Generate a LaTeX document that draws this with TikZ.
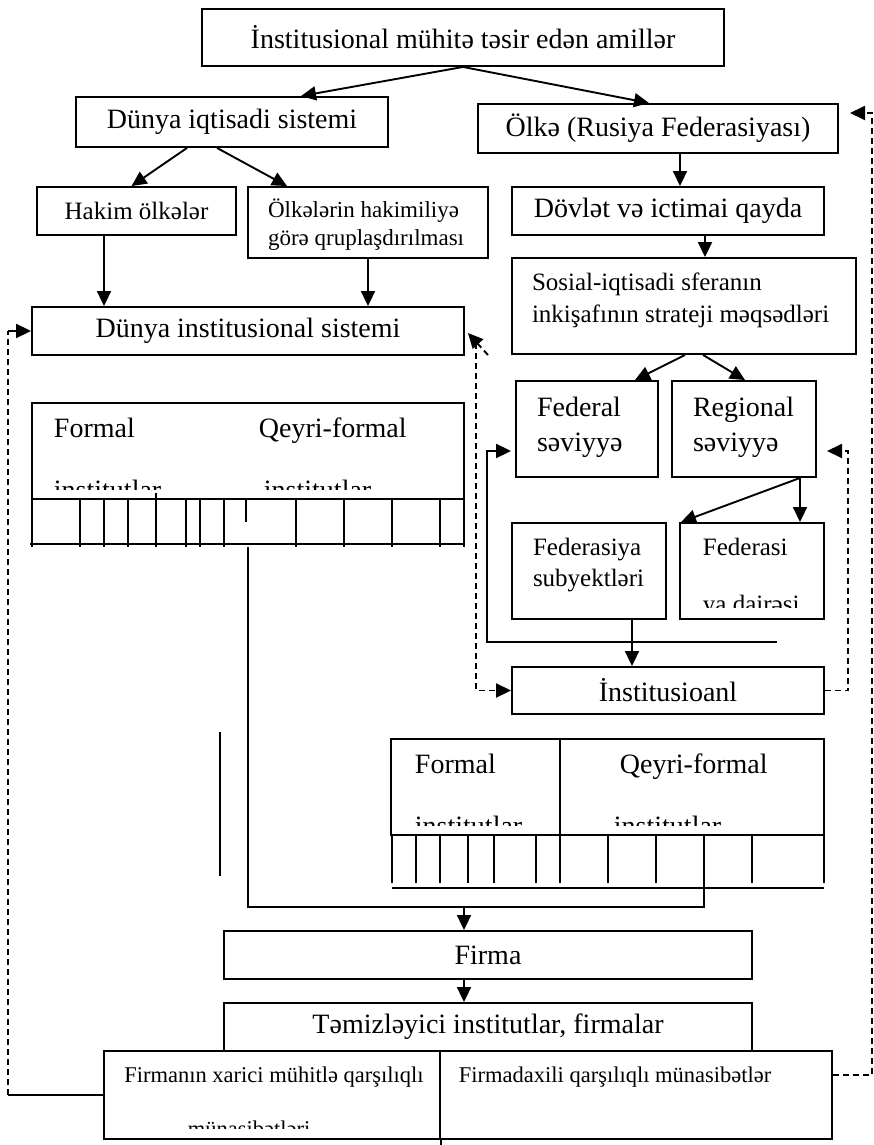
\documentclass[tikz,border=0pt]{standalone}
\usepackage{fontspec}
\setmainfont{Liberation Serif}
\usetikzlibrary{arrows.meta}
\usetikzlibrary{positioning}
\tikzset{->/.style = {-{Triangle[length=15pt,width=14pt]}}}
\tikzset{fb/.style = {dash pattern=on 6pt off 4pt}}
\tikzset{box/.style = {draw, inner sep = 0, font=\fontsize{28}{34}\selectfont}}
\tikzset{ltxt/.style = {inner sep = 0, anchor=west, align=left, font=\fontsize{25}{33}\selectfont}}
\tikzset{btxt/.style = {inner sep = 0, anchor=base west, font=\fontsize{28}{34}\selectfont}}
\begin{document}
\begin{tikzpicture}[x=1pt, y=-1pt, line width=1.9pt]
      \useasboundingbox (0,0) rectangle (874,1145);
      \node [box, minimum width=522, minimum height=57] (amil) at (463,37.5) {İnstitusional mühitə təsir edən amillər};
      \node [box, minimum width=312, minimum height=50] (diqt) at (232,122) {Dünya iqtisadi sistemi};
      \node [box, minimum width=360, minimum height=49] (olke) at (658,128.5) {Ölkə (Rusiya Federasiyası)};
      \node [box, minimum width=199, minimum height=48, font=\fontsize{25}{30}\selectfont] (hakim) at (136.5,211) {Hakim ölkələr};
      \node [box, minimum width=240, minimum height=71] (qrup) at (368,222.5) {};
      \node [ltxt, font=\fontsize{23}{28}\selectfont] (qrupt) at ([xshift=20pt, yshift=-2pt]qrup.west) {Ölkələrin hakimiliyə\\görə qruplaşdırılması};
      \node [box, minimum width=312, minimum height=48] (dovlet) at (668,211) {Dövlət və ictimai qayda};
      \node [box, minimum width=344, minimum height=96] (sosial) at (684,306) {};
      \node [ltxt, font=\fontsize{25}{32}\selectfont] (sosialt) at ([xshift=20pt, yshift=6pt]sosial.west) {Sosial-iqtisadi sferanın\\inkişafının strateji məqsədləri};
      \node [box, minimum width=432, minimum height=48] (dis) at (248,331) {Dünya institusional sistemi};
      \node [box, minimum width=142, minimum height=96] (federal) at (587,429) {};
      \node [ltxt, font=\fontsize{28}{35}\selectfont] (federalt) at ([xshift=21pt, yshift=2pt]federal.west) {Federal\\səviyyə};
      \node [box, minimum width=144, minimum height=96] (regional) at (744,429) {};
      \node [ltxt, font=\fontsize{28}{35}\selectfont] (regionalt) at ([xshift=21pt, yshift=2pt]regional.west) {Regional\\səviyyə};
      \node [box, minimum width=154, minimum height=96] (subyekt) at (589,571) {};
      \node [ltxt, font=\fontsize{25}{31}\selectfont] (subyektt) at ([xshift=21pt, yshift=6pt]subyekt.west) {Federasiya\\subyektləri};
      \node [box, minimum width=144, minimum height=96] (fdair) at (752,571) {};
      \node [btxt, font=\fontsize{25}{31}\selectfont] (fdairt) at (702,555) {Federasi};
      \begin{scope}
        \clip (680,523) rectangle (824,607);
        \node [btxt, font=\fontsize{25}{31}\selectfont] (fdairu) at (702,612) {ya dairəsi};
      \end{scope}
      \node [box, minimum width=312, minimum height=47] (inst) at (668,690.5) {İnstitusioanl};
      \node [box, minimum width=432, minimum height=96] (wtab) at (248,451) {};
      \node [btxt] (wform) at (53,437) {Formal};
      \node [btxt] (wqeyri) at (258,437) {Qeyri-formal};
      \begin{scope}
        \clip (32,403) rectangle (464,489);
        \node [btxt] (winst1) at (53,499) {institutlar};
        \node [btxt] (winst2) at (263,499) {institutlar};
      \end{scope}
      \foreach \x in {32,80,104,128,186,200,224,296,344,392,440,464}
        \draw (\x,499) -- (\x,547);
      \draw (156,493) -- (156,547);
      \draw (246,499) -- (246,522);
      \draw (30,544) -- (464,544);
      \node [box, minimum width=433, minimum height=96] (rtab) at (607.5,787) {};
      \draw (560,739) -- (560,835);
      \node [btxt] (rform) at (414,773) {Formal};
      \node [btxt] (rqeyri) at (619,773) {Qeyri-formal};
      \begin{scope}
        \clip (391,739) rectangle (824,825);
        \node [btxt] (rinst1) at (414,835) {institutlar};
        \node [btxt] (rinst2) at (613,835) {institutlar};
      \end{scope}
      \foreach \x in {392,416,440,468,494,536,560,608,656,704,752,824}
        \draw (\x,835) -- (\x,883);
      \draw (392,888) -- (824,888);
      \draw (220,732) -- (220,876);
      \node [box, minimum width=528, minimum height=48] (firma) at (488,955) {Firma};
      \node [box, minimum width=528, minimum height=48] (temiz) at (488,1027) {Təmizləyici institutlar, firmalar};
      \node [box, fill=white, minimum width=336, minimum height=88] (firxar) at (272,1095) {};
      \node [box, fill=white, minimum width=392, minimum height=88] (firdax) at (636,1095) {};
      \draw (firxar.south east) -- ++(0,6);
      \node [btxt, anchor=base, font=\fontsize{22.5}{27}\selectfont] (firxart) at (274,1082) {Firmanın xarici mühitlə qarşılıqlı};
      \node [btxt, font=\fontsize{22.5}{27}\selectfont] (firdaxt) at (458,1082) {Firmadaxili qarşılıqlı münasibətlər};
      \begin{scope}
        \clip (104,1051) rectangle (440,1128);
        \node [btxt, anchor=base, font=\fontsize{22.5}{27}\selectfont] (firxaru) at (249,1136) {münasibətləri};
      \end{scope}
      \path ([xshift=-32.5pt]hakim.south) coordinate (h1)
            (qrup.south) coordinate (q1)
            ([xshift=22pt]olke.south) coordinate (o1)
            ([xshift=37pt]dovlet.south) coordinate (d1)
            ([xshift=43pt]subyekt.south) coordinate (s1)
            ([xshift=56pt]regional.south) coordinate (r0)
            ([xshift=-4pt, yshift=-22pt]federal.west) coordinate (f1)
            (777,642) coordinate (fend)
            (248,547) coordinate (wout)
            (704,835) coordinate (rout)
            (704,907) coordinate (join)
            (464,907) coordinate (mid)
            (8,1095) coordinate (lc)
            (476,343) coordinate (dd)
            (848,451) coordinate (rr)
            (827,451) coordinate (r1)
            (872,113) coordinate (ol)
            (850,113) coordinate (ot);
      \draw [->] (amil.south) -- ([xshift=69pt]diqt.north);
      \draw [->] (amil.south) -- ([xshift=-9pt]olke.north);
      \draw [->] ([xshift=-45pt]diqt.south) -- ([xshift=-5pt]hakim.north);
      \draw [->] ([xshift=-15pt]diqt.south) -- ([xshift=-81pt]qrup.north);
      \draw [->] (h1) -- (h1 |- dis.north);
      \draw [->] (q1) -- (q1 |- dis.north);
      \draw [->] (o1) -- (o1 |- dovlet.north);
      \draw [->] (d1) -- (d1 |- sosial.north);
      \draw [->] ([xshift=1pt]sosial.south) -- ([xshift=48pt]federal.north);
      \draw [->] ([xshift=19pt]sosial.south) -- ([xshift=1pt]regional.north);
      \draw [->] (r0) -- ([xshift=2pt]fdair.north west);
      \draw [->] (r0) -- (r0 |- fdair.north);
      \draw [->] (s1) -- (s1 |- inst.north);
      \draw [->] (fend) -| ([xshift=-24pt]f1) -- (f1);
      \draw (wout) |- (join) -- (rout);
      \draw [->] (mid) -- (mid |- firma.north);
      \draw [->] ([xshift=-24pt]firma.south) -- ([xshift=-24pt]temiz.north);
      \draw (firxar.west) -- (lc);
      \draw [fb] (lc) -- (lc |- dis.west);
      \draw [->] (lc |- dis.west) -- (dis.west);
      \draw [fb, ->] (dd) |- (inst.west);
      \draw [fb, ->] ([xshift=12pt, yshift=-12pt]dd) -- ([xshift=3pt, yshift=-2pt]dis.east);
      \draw [fb, ->] (inst.east) -| (rr) -- (r1);
      \draw [fb, ->] (firdax.east |- 0,1075) -| (ol) -- (ot);
    \end{tikzpicture}
\end{document}
